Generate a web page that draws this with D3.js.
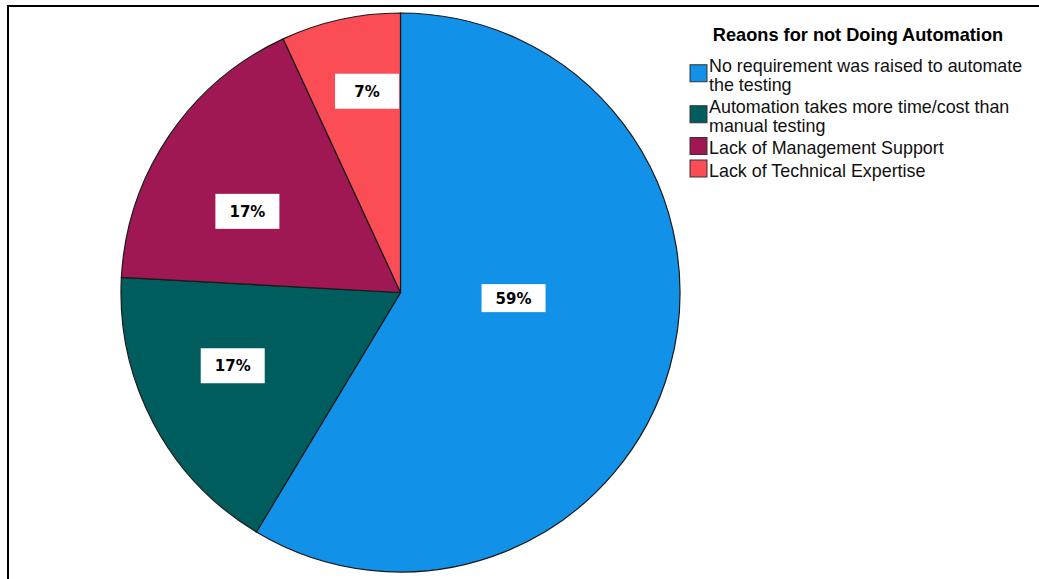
<!DOCTYPE html>
<html>
<head>
<meta charset="utf-8">
<script src="https://cdn.jsdelivr.net/npm/d3@7"></script>
<style>
  body { margin: 0; background: #fff; }
  svg { display: block; }
</style>
</head>
<body>
<svg id="chart" width="1039" height="579"></svg>
<script>
// Datos (conteos por categoría)
const categories = [
  "No requirement was raised to automate the testing",
  "Automation takes more time/cost than manual testing",
  "Lack of Management Support",
  "Lack of Technical Expertise"
];
const legendLines = [
  ["No requirement was raised to automate", "the testing"],
  ["Automation takes more time/cost than", "manual testing"],
  ["Lack of Management Support"],
  ["Lack of Technical Expertise"]
];
const counts = [17, 5, 5, 2];
const pctLabels = ["59%", "17%", "17%", "7%"];
const colors = ["#1192e8", "#005d5d", "#9f1853", "#fa4d56"];
const legendTitle = "Reaons for not Doing Automation";

// Layout
const width = 1039, height = 579;
const cx = 400.5, cy = 292.5, radius = 279.5;
// donde cae la etiqueta dentro de cada sector: fracción del ángulo y del radio
const labelSpot = [{t: 0.44, r: 0.405}, {t: 0.57, r: 0.655}, {t: 0.40, r: 0.62}, {t: 0.62, r: 0.73}];
const labelBoxH = [28, 35, 35, 35];

const svg = d3.select("#chart");

// marco
svg.append("rect")
  .attr("x", 8).attr("y", 6)
  .attr("width", 1100).attr("height", 700)
  .attr("fill", "none")
  .attr("stroke", "#000")
  .attr("stroke-width", 2);

const pie = d3.pie().sort(null).value(d => d);
const arcs = pie(counts);
const arc = d3.arc().innerRadius(0).outerRadius(radius);

const g = svg.append("g").attr("transform", `translate(${cx},${cy})`);

g.selectAll("path.slice")
  .data(arcs)
  .join("path")
  .attr("class", "slice")
  .attr("d", arc)
  .attr("fill", (d, i) => colors[i])
  .attr("stroke", "#1a1a1a")
  .attr("stroke-width", 1.2);

// etiquetas de porcentaje
const labels = g.selectAll("g.lbl")
  .data(arcs)
  .join("g")
  .attr("class", "lbl")
  .attr("transform", (d, i) => {
    const a = d.startAngle + (d.endAngle - d.startAngle) * labelSpot[i].t;
    const r = radius * labelSpot[i].r;
    return `translate(${r * Math.sin(a)},${-r * Math.cos(a)})`;
  });

labels.append("rect")
  .attr("x", -32)
  .attr("y", (d, i) => -labelBoxH[i] / 2)
  .attr("width", 64)
  .attr("height", (d, i) => labelBoxH[i])
  .attr("fill", "#fff");

labels.append("text")
  .attr("text-anchor", "middle")
  .attr("dy", "0.36em")
  .attr("font-family", "DejaVu Sans, sans-serif")
  .attr("font-weight", "bold")
  .attr("font-size", 15)
  .attr("fill", "#000")
  .text((d, i) => pctLabels[i]);

// Leyenda
const legend = svg.append("g");
legend.append("text")
  .attr("x", 858).attr("y", 41)
  .attr("text-anchor", "middle")
  .attr("font-family", "Liberation Sans, Arial, sans-serif")
  .attr("font-weight", "bold")
  .attr("font-size", 18.2)
  .attr("fill", "#000")
  .text(legendTitle);

const lineH = 18.5, itemGap = 4;
let y = 66;
legendLines.forEach((lines, i) => {
  const centers = lines.map((_, k) => y + k * lineH);
  const sc = d3.mean(centers) - 2;
  legend.append("rect")
    .attr("x", 690).attr("y", sc - 8.5)
    .attr("width", 17).attr("height", 17)
    .attr("fill", colors[i])
    .attr("stroke", "#333")
    .attr("stroke-width", 1);
  lines.forEach((t, k) => {
    legend.append("text")
      .attr("x", 709).attr("y", centers[k])
      .attr("dy", "0.36em")
      .attr("font-family", "Liberation Sans, Arial, sans-serif")
      .attr("font-size", 17.9)
      .attr("fill", "#111")
      .text(t);
  });
  y += lines.length * lineH + itemGap;
});
</script>
</body>
</html>
